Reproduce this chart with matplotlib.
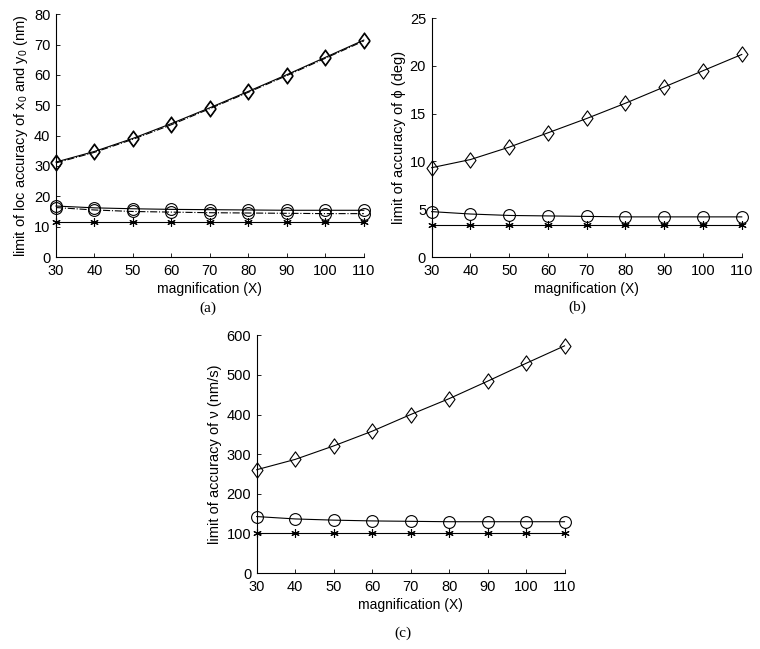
import matplotlib.pyplot as plt
from matplotlib.path import Path

plt.rcParams["font.family"] = ["Liberation Sans", "DejaVu Sans"]
plt.rcParams["font.size"] = 10
plt.rcParams["mathtext.default"] = "regular"

magnification = [30, 40, 50, 60, 70, 80, 90, 100, 110]

# panel (a): x0 (solid) and y0 (dash-dot)
a_diamond_x = [31.3, 34.8, 39.1, 44.0, 49.2, 54.6, 60.1, 65.8, 71.5]
a_diamond_y = [31.0, 34.5, 38.8, 43.6, 48.9, 54.3, 59.8, 65.5, 71.2]
a_circle_x = [16.8, 16.2, 15.9, 15.7, 15.6, 15.5, 15.4, 15.4, 15.4]
a_circle_y = [16.3, 15.5, 15.0, 14.8, 14.6, 14.5, 14.4, 14.3, 14.3]
a_star = [11.7, 11.7, 11.7, 11.7, 11.7, 11.7, 11.7, 11.7, 11.7]

# panel (b): phi
b_diamond = [9.35, 10.2, 11.5, 13.0, 14.5, 16.1, 17.8, 19.5, 21.2]
b_circle = [4.75, 4.5, 4.35, 4.3, 4.25, 4.2, 4.2, 4.2, 4.2]
b_star = [3.3, 3.3, 3.3, 3.3, 3.3, 3.3, 3.3, 3.3, 3.3]

# panel (c): v
c_diamond = [261, 287, 321, 358, 400, 440, 484, 529, 573]
c_circle = [143, 137, 134, 132, 131, 130, 130, 130, 130]
c_star = [101, 101, 101, 101, 101, 101, 101, 101, 101]

# matlab-like diamond, a bit taller than wide
diamond = Path([(0, 1), (0.72, 0), (0, -1), (-0.72, 0), (0, 1)],
               [Path.MOVETO, Path.LINETO, Path.LINETO, Path.LINETO, Path.CLOSEPOLY])
asterisk = (6, 2, 0)
line_kw = dict(color="black", lw=0.8, mfc="none", mec="black", mew=0.8, clip_on=False)


def style_axes(ax, ymax, ystep, ylabel):
    ax.spines["top"].set_visible(False)
    ax.spines["right"].set_visible(False)
    ax.set_xlim(30, 110)
    ax.set_ylim(0, ymax)
    ax.set_xticks(magnification)
    ax.set_yticks(range(0, ymax + 1, ystep))
    ax.tick_params(direction="in", length=3, width=0.6, labelsize=10.5)
    ax.tick_params(axis="x", pad=5)
    ax.tick_params(axis="y", pad=4)
    ax.set_xlabel("magnification (X)", fontsize=10, labelpad=3)
    ax.set_ylabel(ylabel, fontsize=10.5, labelpad=3)
    for sp in ax.spines.values():
        sp.set_linewidth(0.8)


fig = plt.figure(figsize=(7.6, 6.49), dpi=100)

ax_a = fig.add_axes([0.0737, 0.604, 0.405, 0.374])
ax_a.plot(magnification, a_diamond_x, "-", marker=diamond, ms=11, **line_kw)
ax_a.plot(magnification, a_diamond_y, "-.", marker=diamond, ms=11, **line_kw)
ax_a.plot(magnification, a_circle_x, "-", marker="o", ms=8.5, **line_kw)
ax_a.plot(magnification, a_circle_y, "-.", marker="o", ms=8.5, **line_kw)
ax_a.plot(magnification, a_star, "-", marker=asterisk, ms=6, **line_kw)
style_axes(ax_a, 80, 10, "limit of loc accuracy of x$_0$ and y$_0$ (nm)")

ax_b = fig.add_axes([0.568, 0.604, 0.408, 0.368])
ax_b.plot(magnification, b_diamond, "-", marker=diamond, ms=11, **line_kw)
ax_b.plot(magnification, b_circle, "-", marker="o", ms=8.5, **line_kw)
ax_b.plot(magnification, b_star, "-", marker=asterisk, ms=6, **line_kw)
style_axes(ax_b, 25, 5, "limit of accuracy of \u03d5 (deg)")

ax_c = fig.add_axes([0.3378, 0.1166, 0.405, 0.367])
ax_c.plot(magnification, c_diamond, "-", marker=diamond, ms=11, **line_kw)
ax_c.plot(magnification, c_circle, "-", marker="o", ms=8.5, **line_kw)
ax_c.plot(magnification, c_star, "-", marker=asterisk, ms=6, **line_kw)
style_axes(ax_c, 600, 100, "limit of accuracy of \u03bd (nm/s)")

serif = ["Liberation Serif", "DejaVu Serif"]
fig.text(208 / 760, 1 - 308 / 649, "(a)", family=serif, fontsize=11, ha="center", va="center")
fig.text(577 / 760, 1 - 307 / 649, "(b)", family=serif, fontsize=11, ha="center", va="center")
fig.text(403 / 760, 1 - 633 / 649, "(c)", family=serif, fontsize=11, ha="center", va="center")

fig.savefig("out.png", dpi=100)
